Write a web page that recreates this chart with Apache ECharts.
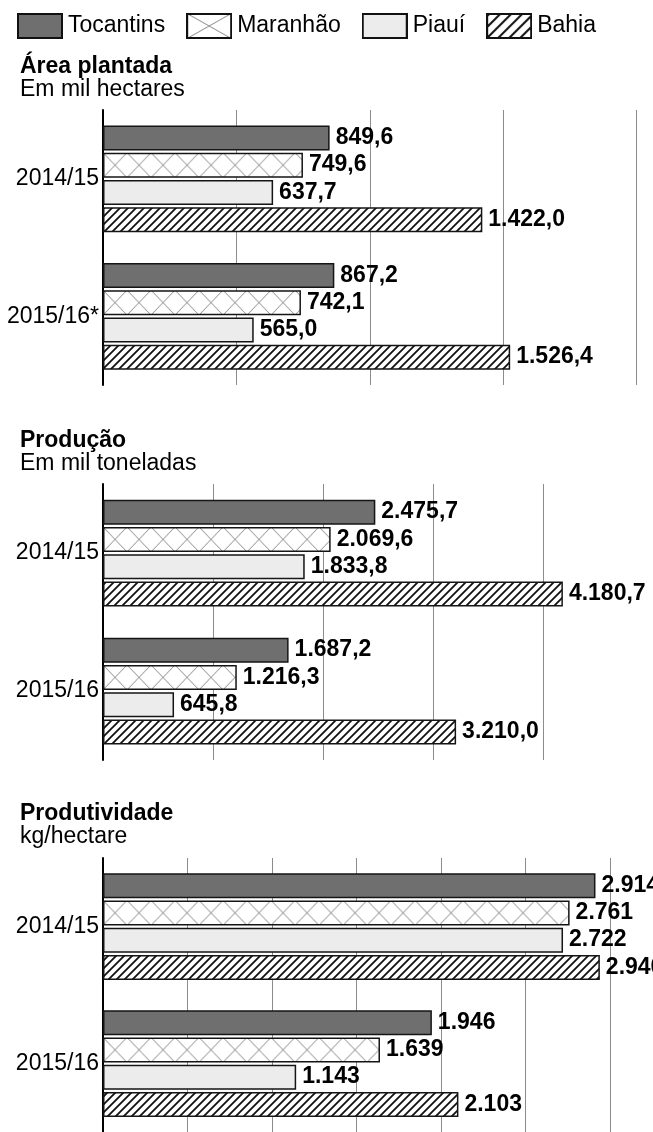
<!DOCTYPE html>
<html>
<head>
<meta charset="utf-8">
<script src="https://cdn.jsdelivr.net/npm/echarts@6/dist/echarts.min.js"></script>
<style>
  html, body { margin: 0; padding: 0; background: #fff; }
  #chart { width: 653px; height: 1132px; }
</style>
</head>
<body>
<div id="chart"></div>
<script>
// estados e safras
const estados = ['Tocantins', 'Maranhão', 'Piauí', 'Bahia'];
const safrasArea = ['2014/15', '2015/16*'];
const safras = ['2014/15', '2015/16'];

// Área plantada - em mil hectares
const areaTocantins = [849.6, 867.2];
const areaMaranhao = [749.6, 742.1];
const areaPiaui = [637.7, 565.0];
const areaBahia = [1422.0, 1526.4];

// Produção - em mil toneladas
const prodTocantins = [2475.7, 1687.2];
const prodMaranhao = [2069.6, 1216.3];
const prodPiaui = [1833.8, 645.8];
const prodBahia = [4180.7, 3210.0];

// Produtividade - kg/hectare
const rendTocantins = [2914, 1946];
const rendMaranhao = [2761, 1639];
const rendPiaui = [2722, 1143];
const rendBahia = [2940, 2103];

const FONT = '"Liberation Sans", Arial, sans-serif';

// número no formato brasileiro (1.422,0)
function br(v, casas) {
    const p = v.toFixed(casas).split('.');
    p[0] = p[0].replace(/\B(?=(\d{3})+(?!\d))/g, '.');
    return p.join(',');
}

// textura xadrez (Maranhão)
function cruzCanvas(w, h) {
    const c = document.createElement('canvas');
    c.width = w; c.height = h;
    const ctx = c.getContext('2d');
    ctx.fillStyle = '#fff';
    ctx.fillRect(0, 0, w, h);
    ctx.strokeStyle = '#8a8a8a';
    ctx.lineWidth = 1;
    ctx.beginPath();
    ctx.moveTo(0, 0); ctx.lineTo(w, h);
    ctx.moveTo(w, 0); ctx.lineTo(0, h);
    ctx.stroke();
    return c;
}

// textura hachurada (Bahia)
function hachuraCanvas(p) {
    const c = document.createElement('canvas');
    c.width = p; c.height = p;
    const ctx = c.getContext('2d');
    ctx.fillStyle = '#fff';
    ctx.fillRect(0, 0, p, p);
    ctx.strokeStyle = '#111';
    ctx.lineWidth = 1.8;
    ctx.beginPath();
    ctx.moveTo(-2, p + 2); ctx.lineTo(p + 2, -2);
    ctx.moveTo(-2, 2); ctx.lineTo(2, -2);
    ctx.moveTo(p - 2, p + 2); ctx.lineTo(p + 2, p - 2);
    ctx.stroke();
    return c;
}

// ícones da legenda
function iconeLegenda(tipo) {
    const w = 46, h = 26;
    const c = document.createElement('canvas');
    c.width = w; c.height = h;
    const ctx = c.getContext('2d');
    if (tipo === 0) {
        ctx.fillStyle = '#6f6f6f'; ctx.fillRect(0, 0, w, h);
    } else if (tipo === 1) {
        ctx.drawImage(cruzCanvas(w, h), 0, 0);
    } else if (tipo === 2) {
        ctx.fillStyle = '#ececec'; ctx.fillRect(0, 0, w, h);
    } else {
        ctx.fillStyle = '#fff'; ctx.fillRect(0, 0, w, h);
        ctx.strokeStyle = '#111'; ctx.lineWidth = 2;
        ctx.beginPath();
        for (let x = -h + 4; x < w + h; x += 11) {
            ctx.moveTo(x, h); ctx.lineTo(x + h, 0);
        }
        ctx.stroke();
    }
    ctx.strokeStyle = '#111';
    ctx.lineWidth = 2;
    ctx.strokeRect(1, 1, w - 2, h - 2);
    return 'image://' + c.toDataURL();
}

const cruz = cruzCanvas(24, 25);
const estilos = [
    { color: '#6f6f6f' },
    { color: { image: cruz, repeat: 'repeat' } },
    { color: '#ececec' },
    { color: { image: hachuraCanvas(8), repeat: 'repeat' } }
].map(s => Object.assign(s, { borderColor: '#151515', borderWidth: 1.5 }));

const paineis = [
    { titulo: 'Área plantada', sub: 'Em mil hectares', safras: safrasArea, max: 2000, interval: 500, casas: 1,
      dados: [areaTocantins, areaMaranhao, areaPiaui, areaBahia] },
    { titulo: 'Produção', sub: 'Em mil toneladas', safras: safras, max: 5000, interval: 1000, casas: 1,
      dados: [prodTocantins, prodMaranhao, prodPiaui, prodBahia] },
    { titulo: 'Produtividade', sub: 'kg/hectare', safras: safras, max: 3000, interval: 500, casas: 0,
      dados: [rendTocantins, rendMaranhao, rendPiaui, rendBahia] }
];

const grids = [
    { left: 103, top: 110, width: 533.5, height: 275 },
    { left: 103, top: 484, width: 551, height: 276 },
    { left: 103, top: 858, width: 507, height: 275 }
];
const titleTops = [55, 429, 802];

const myChart = echarts.init(document.getElementById('chart'));

const xAxis = [], yAxis = [], series = [], title = [];
paineis.forEach((p, g) => {
    title.push({
        text: p.titulo, subtext: p.sub,
        left: 20, top: titleTops[g], itemGap: 0, padding: 0,
        textStyle: { fontFamily: FONT, fontSize: 23, fontWeight: 'bold', color: '#000' },
        subtextStyle: { fontFamily: FONT, fontSize: 23, color: '#000' }
    });
    xAxis.push({
        type: 'value', gridIndex: g, min: 0, max: p.max, interval: p.interval,
        axisLabel: { show: false }, axisTick: { show: false }, axisLine: { show: false },
        splitLine: { show: true, lineStyle: { color: '#8c8c8c', width: 1 } }
    });
    yAxis.push({
        type: 'category', gridIndex: g, data: p.safras, inverse: true,
        axisTick: { show: false },
        axisLine: { show: true, lineStyle: { color: '#000', width: 2 } },
        axisLabel: { margin: 4, fontFamily: FONT, fontSize: 23, color: '#000' }
    });
    estados.forEach((nome, s) => {
        series.push({
            type: 'bar', name: nome, xAxisIndex: g, yAxisIndex: g,
            data: p.dados[s], barWidth: 25, barGap: '9%',
            itemStyle: estilos[s],
            label: {
                show: true, position: 'right', distance: 6,
                fontFamily: FONT, fontSize: 23, fontWeight: 'bold', color: '#000',
                formatter: d => br(d.value, p.casas)
            },
            emphasis: { disabled: true },
            animation: false
        });
    });
});

myChart.setOption({
    backgroundColor: '#fff',
    animation: false,
    title: title,
    legend: {
        left: 17, top: 13, padding: 0, itemWidth: 46, itemHeight: 26, itemGap: 21,
        textStyle: { fontFamily: FONT, fontSize: 23, color: '#000' },
        data: estados.map((n, i) => ({ name: n, icon: iconeLegenda(i) })),
        selectedMode: false
    },
    grid: grids,
    xAxis: xAxis,
    yAxis: yAxis,
    series: series
});

// alinha o xadrez de cada barra do Maranhão com o canto da barra
const model = myChart.getModel();
const ajuste = series.map((s, i) => {
    if (s.name !== 'Maranhão') return {};
    const dados = model.getSeriesByIndex(i).getData();
    return {
        data: s.data.map((v, k) => {
            const r = dados.getItemLayout(k);
            return { value: v, itemStyle: { color: { image: cruz, repeat: 'repeat', x: r.x, y: r.y } } };
        })
    };
});
myChart.setOption({ series: ajuste });
</script>
</body>
</html>
